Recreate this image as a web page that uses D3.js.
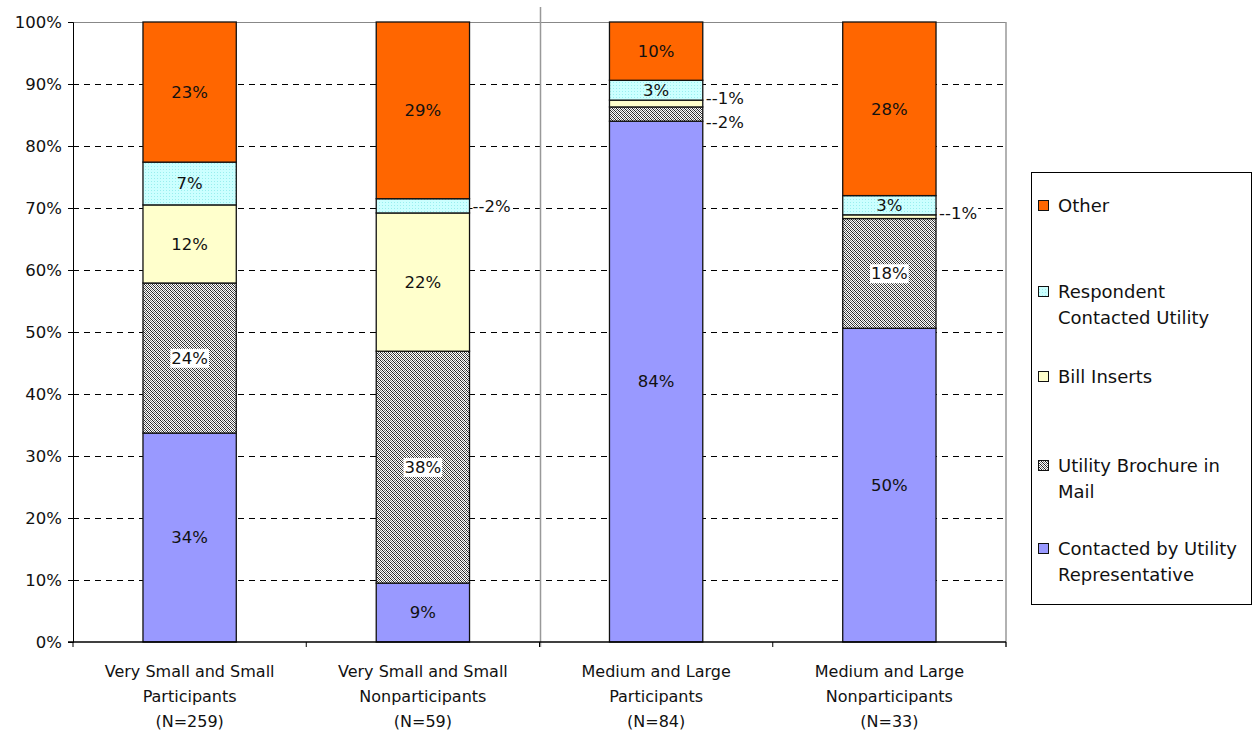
<!DOCTYPE html>
<html><head><meta charset="utf-8">
<script src="https://cdn.jsdelivr.net/npm/d3@7"></script>
<style>body{margin:0;background:#fff}svg{display:block}text{font-family:"DejaVu Sans",sans-serif;fill:#111}</style>
</head><body><svg id="c" width="1256" height="736"></svg>
<script>
const categories = [
  ["Very Small and Small","Participants","(N=259)"],
  ["Very Small and Small","Nonparticipants","(N=59)"],
  ["Medium and Large","Participants","(N=84)"],
  ["Medium and Large","Nonparticipants","(N=33)"]
];
const seriesNames = ["Contacted by Utility Representative","Utility Brochure in Mail","Bill Inserts","Respondent Contacted Utility","Other"];
const contacted = [33.7, 9.5, 84.0, 50.6];
const brochure  = [24.2, 37.4, 2.3, 17.7];
const bill      = [12.6, 22.3, 1.1, 0.6];
const respondent= [6.9, 2.3, 3.2, 3.1];
const other     = [22.6, 28.5, 9.4, 28.0];
const labels = [
  ["34%","24%","12%","7%","23%"],
  ["9%","38%","22%","2%","29%"],
  ["84%","2%","1%","3%","10%"],
  ["50%","18%","1%","3%","28%"]
];
// labels drawn outside the bar (right side with leader "--"), with vertical nudge
const outside = [{}, {3:0}, {1:8, 2:-5}, {2:-3}];
const yTicks = [0,10,20,30,40,50,60,70,80,90,100];

const svg = d3.select("#c");
const defs = svg.append("defs");
const hp = defs.append("pattern").attr("id","hatch").attr("patternUnits","userSpaceOnUse").attr("width",4).attr("height",4);
hp.append("rect").attr("width",4).attr("height",4).attr("fill","#fff");
[[0,0],[1,1],[2,2],[3,3],[2,0],[3,1],[0,2],[1,3]].forEach((p,i)=>{
  hp.append("rect").attr("x",p[0]).attr("y",p[1]).attr("width",1).attr("height",1).attr("fill", i<4?"#222":"#777");
});
const cp = defs.append("pattern").attr("id","cyan").attr("patternUnits","userSpaceOnUse").attr("width",3).attr("height",3);
cp.append("rect").attr("width",3).attr("height",3).attr("fill","#ccffff");
cp.append("rect").attr("x",1).attr("y",1).attr("width",1).attr("height",1).attr("fill","#99eeee");

const fills = ["#9999ff","url(#hatch)","#ffffcc","url(#cyan)","#ff6600"];

const L=73, R=1006, T=22, B=642;
const x = d3.scaleBand().domain(d3.range(4)).range([L,R]).paddingInner(0).paddingOuter(0);
const y = d3.scaleLinear().domain([0,100]).range([B,T]);
const bw = x.bandwidth()*0.4;

// gridlines
svg.append("g").selectAll("line").data(yTicks.filter(t=>t>0)).join("line")
  .attr("x1",L).attr("x2",R).attr("y1",d=>y(d)).attr("y2",d=>y(d))
  .attr("stroke",d=>d===100?"#888":"#000").attr("stroke-width",1)
  .attr("stroke-dasharray",d=>d===100?null:"6,5").attr("shape-rendering","crispEdges");

// separator lines
svg.append("line").attr("x1",x(2)+1).attr("x2",x(2)+1).attr("y1",7).attr("y2",B+5).attr("stroke","#999").attr("stroke-width",1.5);
svg.append("line").attr("x1",R).attr("x2",R).attr("y1",T).attr("y2",B+5).attr("stroke","#999").attr("stroke-width",1.5);

const data = [contacted, brochure, bill, respondent, other];
const stackData = d3.range(4).map(i=>{const o={i}; seriesNames.forEach((s,k)=>o[s]=data[k][i]); return o;});
const stack = d3.stack().keys(seriesNames)(stackData);

stack.forEach((layer,k)=>{
  svg.append("g").selectAll("rect").data(layer).join("rect")
    .attr("x",d=>x(d.data.i)+x.bandwidth()/2-bw/2).attr("width",bw)
    .attr("y",d=>y(d[1])).attr("height",d=>y(d[0])-y(d[1]))
    .attr("fill",fills[k]).attr("stroke","#111").attr("stroke-width",1.3);
});

// labels
stack.forEach((layer,k)=>{
  layer.forEach(d=>{
    const i=d.data.i, cx=x(i)+x.bandwidth()/2, cy=(y(d[0])+y(d[1]))/2;
    const txt=labels[i][k];
    if(k in outside[i]){
      const t=svg.append("text").attr("x",cx+bw/2+3).attr("y",cy+outside[i][k]).attr("dy","0.35em")
        .attr("font-size",16.5).text("--"+txt);
      const bb=t.node().getBBox();
      svg.insert("rect",()=>t.node()).attr("x",bb.x).attr("y",bb.y+2).attr("width",bb.width+1).attr("height",bb.height-4).attr("fill","#fff");
    } else {
      const t=svg.append("text").attr("x",cx).attr("y",cy).attr("dy","0.35em")
        .attr("text-anchor","middle").attr("font-size",16.5).text(txt);
      if(k===1){
        const bb=t.node().getBBox();
        svg.insert("rect",()=>t.node()).attr("x",bb.x-1).attr("y",bb.y).attr("width",bb.width+2).attr("height",bb.height).attr("fill","#fff");
      }
    }
  });
});

// axes
const ya = svg.append("g").attr("transform",`translate(${L},0)`)
  .call(d3.axisLeft(y).tickValues(yTicks).tickFormat(d=>d+"%").tickSize(5).tickPadding(6));
ya.select(".domain").attr("stroke","#000");
ya.selectAll("text").attr("font-size",16.5).attr("font-family","DejaVu Sans, sans-serif").attr("fill","#111");
const xa = svg.append("g").attr("transform",`translate(0,${B})`);
xa.append("line").attr("x1",L-5).attr("x2",R).attr("y1",0).attr("y2",0).attr("stroke","#000").attr("stroke-width",1.3);
xa.selectAll("line.t").data(d3.range(5)).join("line").attr("class","t")
  .attr("x1",i=>i<4?x(i):R).attr("x2",i=>i<4?x(i):R).attr("y1",0).attr("y2",5).attr("stroke","#000");
categories.forEach((c,i)=>{
  const t=svg.append("text").attr("x",x(i)+x.bandwidth()/2).attr("text-anchor","middle").attr("font-size",16);
  c.forEach((ln,j)=>t.append("tspan").attr("x",x(i)+x.bandwidth()/2).attr("y",677+j*25).text(ln));
});

// legend
svg.append("rect").attr("x",1031.5).attr("y",172.5).attr("width",220).attr("height",432).attr("fill","#fff").attr("stroke","#000");
const legendItems = [
  {k:4, lines:["Other"], y:206},
  {k:3, lines:["Respondent","Contacted Utility"], y:292},
  {k:2, lines:["Bill Inserts"], y:377},
  {k:1, lines:["Utility Brochure in","Mail"], y:466},
  {k:0, lines:["Contacted by Utility","Representative"], y:549}
];
legendItems.forEach(it=>{
  svg.append("rect").attr("x",1038.5).attr("y",it.y-5.5).attr("width",10).attr("height",10)
    .attr("fill",fills[it.k]).attr("stroke","#111");
  const t=svg.append("text").attr("font-size",18);
  it.lines.forEach((ln,j)=>t.append("tspan").attr("x",1058).attr("y",it.y+j*26).attr("dy","0.35em").text(ln));
});
</script></body></html>
